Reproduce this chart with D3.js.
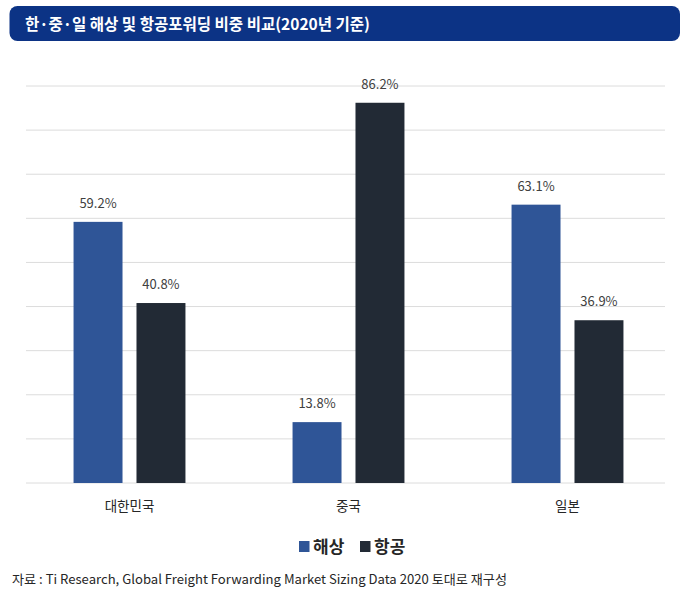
<!DOCTYPE html>
<html>
<head>
<meta charset="utf-8">
<script src="https://cdn.jsdelivr.net/npm/d3@7"></script>
<style>
  body { margin: 0; background: #ffffff; }
  text { font-family: "Noto Sans CJK KR", "Noto Sans", sans-serif; }
</style>
</head>
<body>
<div class="chart"></div>
<script>
'use strict';

var categories = ['대한민국', '중국', '일본'];
var seriesNames = ['해상', '항공'];
var seaValues = [59.2, 13.8, 63.1];
var airValues = [40.8, 86.2, 36.9];
var yTicks = [0, 10, 20, 30, 40, 50, 60, 70, 80, 90];

var colors = { '해상': '#2f5597', '항공': '#222a35' };

var width  = 691,
    height = 601;

var svg = d3.select('.chart')
  .append('svg')
  .attr('width', width)
  .attr('height', height);

// Title bar
svg.append('rect')
  .attr('x', 9.5).attr('y', 6)
  .attr('width', 670.5).attr('height', 35)
  .attr('rx', 8)
  .style('fill', '#0c3385');
svg.append('text')
  .attr('x', 25).attr('y', 29.5)
  .attr('textLength', 345)
  .attr('lengthAdjust', 'spacingAndGlyphs')
  .style('fill', '#ffffff')
  .style('font-size', '16px')
  .style('font-weight', 'bold')
  .text('한·중·일 해상 및 항공포워딩 비중 비교(2020년 기준)');

// Scales
var x0 = d3.scaleBand()
  .domain(categories)
  .range([20, 677])
  .paddingInner(0.489)
  .paddingOuter(0.2445);

var x1 = d3.scaleBand()
  .domain(seriesNames)
  .range([0, x0.bandwidth()])
  .paddingInner(0.222);

var y = d3.scaleLinear()
  .domain([0, 90])
  .range([483, 86]);

// Gridlines
svg.append('g')
  .selectAll('line')
  .data(yTicks).enter()
  .append('line')
    .attr('x1', 26).attr('x2', 665)
    .attr('y1', function(d) { return y(d); })
    .attr('y2', function(d) { return y(d); })
    .style('stroke', '#dcdcdc')
    .style('stroke-width', 1);

// Bars
var rows = categories.map(function(c, i) {
  return { cat: c, values: [
    { name: '해상', value: seaValues[i] },
    { name: '항공', value: airValues[i] }
  ] };
});

var groups = svg.selectAll('g.group')
  .data(rows).enter()
  .append('g')
    .attr('class', 'group')
    .attr('transform', function(d) { return 'translate(' + x0(d.cat) + ',0)'; });

groups.selectAll('rect')
  .data(function(d) { return d.values; }).enter()
  .append('rect')
    .attr('x', function(d) { return x1(d.name); })
    .attr('y', function(d) { return y(d.value); })
    .attr('width', x1.bandwidth())
    .attr('height', function(d) { return y(0) - y(d.value); })
    .style('fill', function(d) { return colors[d.name]; });

groups.selectAll('text')
  .data(function(d) { return d.values; }).enter()
  .append('text')
    .attr('x', function(d) { return x1(d.name) + x1.bandwidth() / 2; })
    .attr('y', function(d) { return y(d.value) - 14; })
    .attr('text-anchor', 'middle')
    .style('fill', '#404040')
    .style('font-size', '13px')
    .text(function(d) { return d.value.toFixed(1) + '%'; });

// Category axis
var xAxis = svg.append('g')
  .attr('transform', 'translate(0,483)')
  .call(d3.axisBottom(x0).tickSize(0).tickPadding(18));
xAxis.select('.domain').remove();
xAxis.selectAll('text')
  .style('font-family', '"Noto Sans CJK KR", sans-serif')
  .style('font-size', '13.5px')
  .style('fill', '#262626');

// Legend
var legend = svg.append('g').attr('transform', 'translate(299,541)');
var legendItems = legend.selectAll('g')
  .data(seriesNames).enter()
  .append('g')
    .attr('transform', function(d, i) { return 'translate(' + (i * 61) + ',0)'; });
legendItems.append('rect')
  .attr('width', 10.5).attr('height', 11)
  .style('fill', function(d) { return colors[d]; });
legendItems.append('text')
  .attr('x', 14).attr('y', 12)
  .style('font-size', '17px')
  .style('font-weight', 'bold')
  .style('fill', '#262626')
  .text(function(d) { return d; });

// Source note
svg.append('text')
  .attr('x', 12).attr('y', 584)
  .attr('textLength', 495)
  .attr('lengthAdjust', 'spacingAndGlyphs')
  .style('font-size', '13px')
  .style('fill', '#262626')
  .text('자료 : Ti Research, Global Freight Forwarding Market Sizing Data 2020 토대로 재구성');
</script>
</body>
</html>
